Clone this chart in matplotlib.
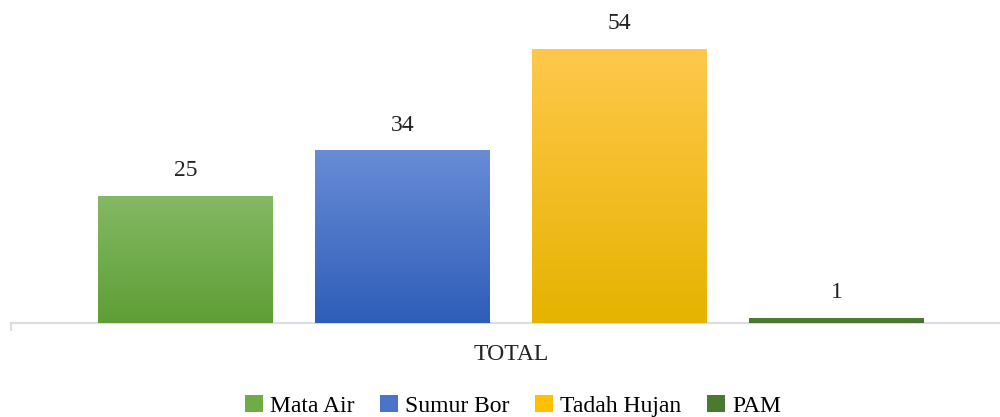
import matplotlib
matplotlib.use("Agg")
import matplotlib.pyplot as plt
import numpy as np
from matplotlib.colors import LinearSegmentedColormap
from matplotlib.patches import Patch

categories = ["TOTAL"]
series = ["Mata Air", "Sumur Bor", "Tadah Hujan", "PAM"]
values = [25, 34, 54, 1]
top_colors = ["#83b964", "#688cd6", "#ffc84b", "#537f3a"]
bottom_colors = ["#5f9e35", "#2e5db8", "#e5b300", "#44722c"]
legend_colors = ["#6fac46", "#4a74c8", "#ffc000", "#4a7a32"]

plt.rcParams['font.family'] = ['Liberation Serif', 'DejaVu Serif']

fig = plt.figure(figsize=(10, 4.17), dpi=100)
ax = fig.add_axes([0.011, 1 - 323 / 417, 1.0, 323 / 417])
ax.set_xlim(0, 1000)
ax.set_ylim(0, 63.66)

bar_w = 175
gap = 42
start = 87
grad = np.linspace(1, 0, 256).reshape(-1, 1)
for i, (v, tc, bc) in enumerate(zip(values, top_colors, bottom_colors)):
    x0 = start + i * (bar_w + gap)
    bars = ax.bar(x0, v, width=bar_w, align='edge', color=bc, linewidth=0, zorder=2)
    cmap = LinearSegmentedColormap.from_list(f"g{i}", [bc, tc])
    im = ax.imshow(grad, extent=[x0, x0 + bar_w, 0, v], aspect='auto', cmap=cmap,
                   vmin=0, vmax=1, zorder=3, interpolation='bilinear')
    im.set_clip_path(bars[0])
    ax.text(x0 + bar_w / 2, v + 2.9, str(v), ha='center', va='bottom', fontsize=17, color='#222222')

ax.set_xlim(0, 1000)
ax.set_ylim(0, 63.66)
for s in ['top', 'right', 'left']:
    ax.spines[s].set_visible(False)
ax.spines['bottom'].set_color('#d9dde4')
ax.spines['bottom'].set_linewidth(1.5)
ax.set_yticks([])
ax.set_xticks([0])
ax.set_xticklabels([""])
ax.tick_params(axis='x', length=6, color='#d9dde4', width=1.5)
ax.text(500, -6.2, categories[0], ha='center', va='center', fontsize=17, color='#222222')

handles = [Patch(facecolor=c, edgecolor='none') for c in legend_colors]
fig.legend(handles, series, loc='center', bbox_to_anchor=(0.513, 0.027), ncol=4, frameon=False,
           fontsize=17, handlelength=0.75, handleheight=0.75, handletextpad=0.3, columnspacing=1.1)

fig.savefig("out.png", dpi=100)
